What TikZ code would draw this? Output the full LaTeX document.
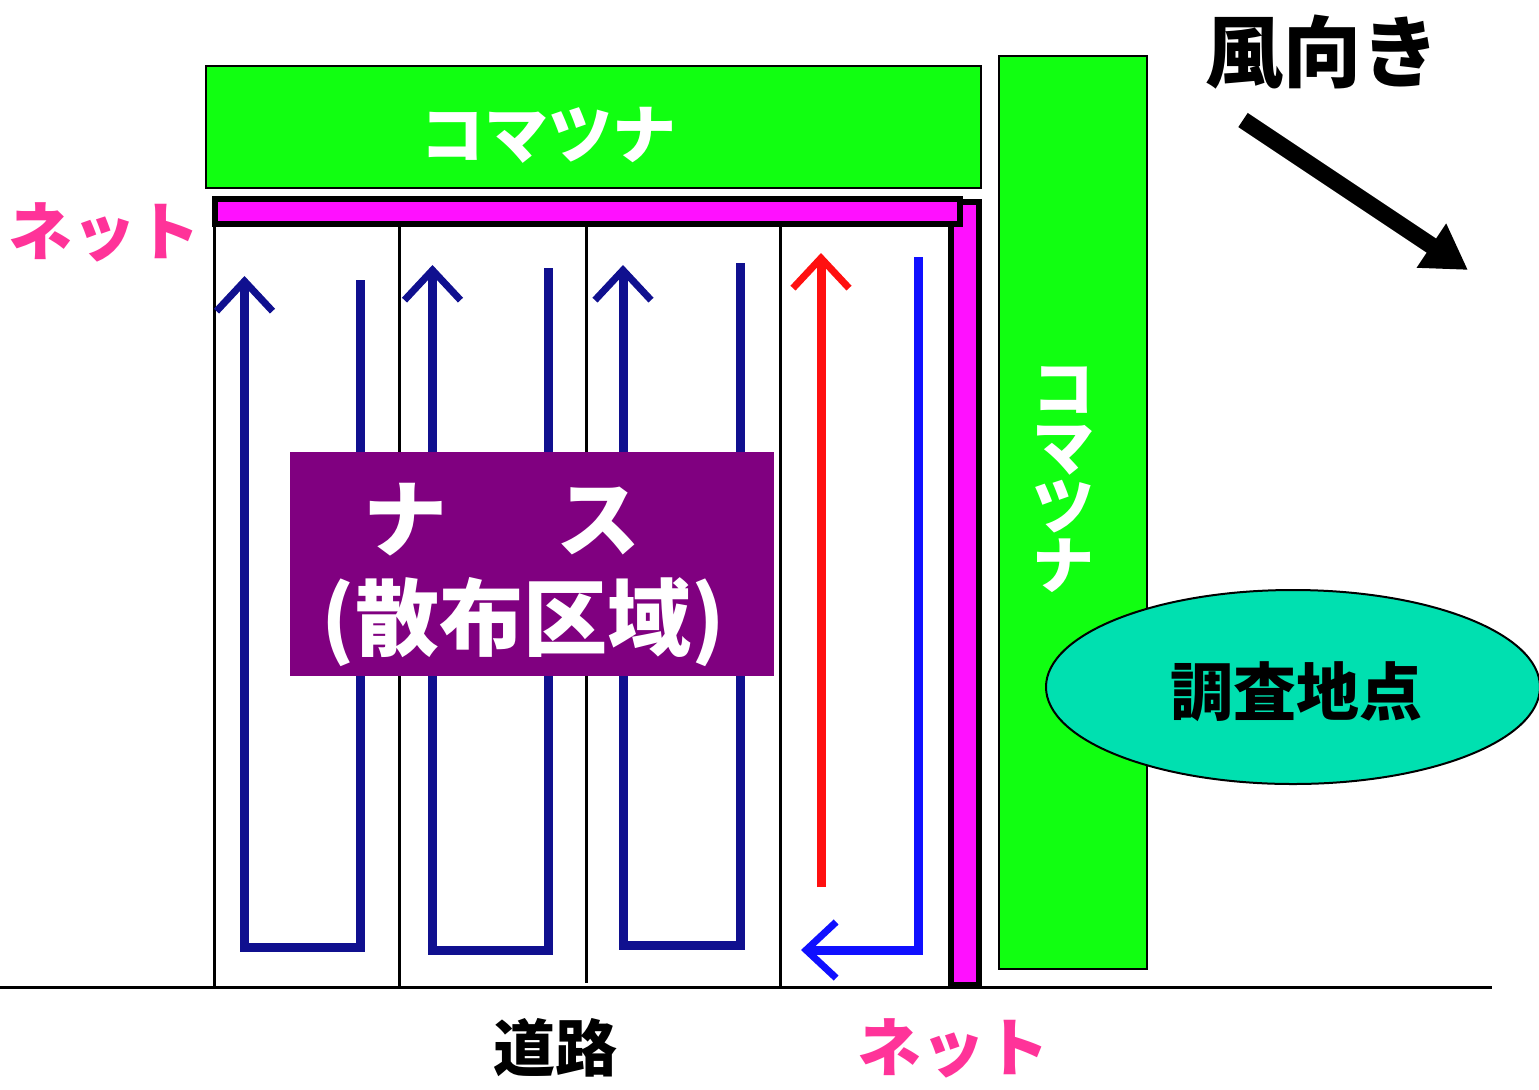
\documentclass[tikz,border=0pt]{standalone}
\usepackage{fontspec}
\newfontfamily\jp{Noto Sans CJK JP}
\usetikzlibrary{arrows.meta,shapes.geometric}
\definecolor{kgreen}{HTML}{11FF11}
\definecolor{kmag}{HTML}{FF10FF}
\definecolor{knavy}{HTML}{10108F}
\definecolor{kblue}{HTML}{1010FF}
\definecolor{kred}{HTML}{FF1010}
\definecolor{kpurple}{HTML}{800080}
\definecolor{kmint}{HTML}{00E0B0}
\definecolor{kpink}{HTML}{FF3399}
\tikzset{
  lbl/.style={inner sep=0pt, font=\jp\bfseries},
  lane/.style={line width=1.5pt, black},
  flow/.style={line width=4.5pt, line join=miter, line cap=butt},
  barb/.style={-{Straight Barb[length=15pt,width=28pt,line width=3.5pt]}},
  fieldbox/.style={draw=black, line width=1pt, fill=kgreen},
  netstrip/.style={draw=black, line width=3pt, fill=kmag},
}
\begin{document}
\begin{tikzpicture}[x=0.5pt,y=-0.5pt]
\useasboundingbox (0,0) rectangle (1539,1089);
% green fields
\node[fieldbox, minimum width=387.5pt, minimum height=61pt, inner sep=0pt] (top) at (593.5,127) {};
\node[lbl, white, font=\jp\bfseries\fontsize{32}{36}\selectfont] (topt) at (548,135) {コマツナ};
\node[fieldbox, minimum width=74pt, minimum height=456.5pt, inner sep=0pt] (side) at (1073,512.5) {};
\node[lbl, white, align=center, font=\jp\bfseries\fontsize{31}{29.5}\selectfont] (sidet) at (1063,480) {コ\\マ\\ツ\\ナ};
% lane separators and ground
\draw[lane] (214,226) -- (214,987);
\draw[lane] (399,226) -- (399,987);
\draw[lane] (586,226) -- (586,983);
\draw[lane] (780,226) -- (780,987);
\draw[lane] (0,987) -- (1492,987);
% nets
\draw[netstrip] (951,202) rectangle (979,985);
\draw[netstrip] (215,199) rectangle (960,224);
% navy flows
\draw[flow, knavy, barb] (360.5,280) -- (360.5,947) -- (244.5,947) -- (244.5,276);
\draw[flow, knavy, barb] (548.5,268) -- (548.5,950) -- (432.5,950) -- (432.5,265);
\draw[flow, knavy, barb] (740,263) -- (740,945) -- (623,945) -- (623,265);
% red / blue
\draw[flow, kred, barb] (821,887) -- (821,253);
\draw[flow, kblue, barb] (918,257) -- (918,950) -- (801,950);
% purple box
\node[fill=kpurple, minimum width=242pt, minimum height=112pt, inner sep=0pt] (nasu) at (532,564) {};
\node[lbl, white, font=\jp\bfseries\fontsize{42}{50}\selectfont] (nasu1) at (502,520) {ナ\hspace{1.3em}ス};
\node[lbl, white, font=\jp\bfseries\fontsize{42}{50}\selectfont] (nasu2) at (523,622) {(散布区域)};
% ellipse
\node[ellipse, draw=black, line width=1pt, fill=kmint, minimum width=247pt, minimum height=97pt, inner sep=0pt] (pt) at (1293,687) {};
\node[lbl, black, font=\jp\bfseries\fontsize{31.5}{36}\selectfont] (ptt) at (1296,692) {調査地点};
% labels
\node[lbl, kpink, font=\jp\bfseries\fontsize{32}{36}\selectfont] (net1) at (105,232) {ネット};
\node[lbl, kpink, font=\jp\bfseries\fontsize{32}{36}\selectfont] (net2) at (953,1048) {ネット};
\node[lbl, black, font=\jp\bfseries\fontsize{31}{36}\selectfont] (road) at (555,1048) {道路};
\node[lbl, black, font=\jp\bfseries\fontsize{39}{44}\selectfont] (wind) at (1322,52) {風向き};
% wind arrow
\coordinate (w0) at (1243,120);
\coordinate (w1) at (1468,270);
\draw[line width=8.5pt, -{Triangle[length=22pt,width=25pt]}] (w0) -- (w1);
\end{tikzpicture}
\end{document}
